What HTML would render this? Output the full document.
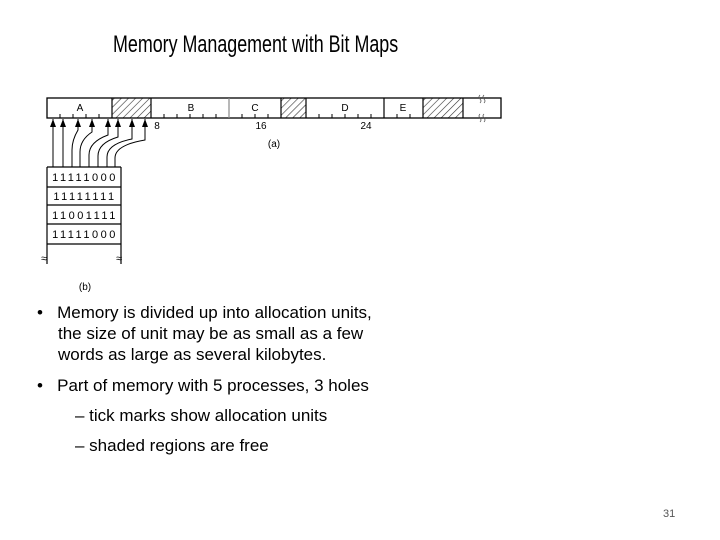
<!DOCTYPE html><html><head><style>
body{margin:0;width:720px;height:540px;background:#fff;position:relative;font-family:"Liberation Sans",sans-serif;overflow:hidden}
.t{position:absolute;white-space:nowrap;color:#000}
.b{font-size:17px}
</style></head><body>
<div class="t" style="left:113px;top:31px;font-size:24px;transform:scaleX(0.745);transform-origin:0 0">Memory Management with Bit Maps</div>
<svg width="720" height="300" style="position:absolute;left:0;top:0" font-family="Liberation Sans, sans-serif">
<defs><pattern id="h" width="5" height="5" patternUnits="userSpaceOnUse" patternTransform="rotate(45)"><line x1="0" y1="0" x2="0" y2="5" stroke="#333" stroke-width="1.2"/></pattern>
<marker id="a" markerWidth="8" markerHeight="6" refX="8" refY="3" orient="auto" markerUnits="userSpaceOnUse"><path d="M0,0 L8,3 L0,6Z" fill="#000"/></marker></defs>
<rect x="112" y="98" width="39" height="20" fill="url(#h)"/>
<rect x="281" y="98" width="25" height="20" fill="url(#h)"/>
<rect x="423" y="98" width="40" height="20" fill="url(#h)"/>
<rect x="47" y="98" width="454" height="20" fill="none" stroke="#000" stroke-width="1.3"/>
<g stroke="#000" stroke-width="1.2">
<line x1="112" y1="98" x2="112" y2="118"/><line x1="151" y1="98" x2="151" y2="118"/><line x1="229" y1="98" x2="229" y2="118" stroke="#888"/><line x1="281" y1="98" x2="281" y2="118"/><line x1="306" y1="98" x2="306" y2="118"/><line x1="384" y1="98" x2="384" y2="118"/><line x1="423" y1="98" x2="423" y2="118"/><line x1="463" y1="98" x2="463" y2="118"/>
</g>
<g stroke="#000" stroke-width="1">
<path d="M60 118v-4M73 118v-4M86 118v-4M99 118v-4M164 118v-4M177 118v-4M190 118v-4M203 118v-4M216 118v-4M242 118v-4M255 118v-4M268 118v-4M319 118v-4M332 118v-4M345 118v-4M358 118v-4M371 118v-4M397 118v-4M410 118v-4"/>
</g>
<g fill="none" stroke="#555" stroke-width="0.8">
<path d="M480 95q-2 2 0 4t0 4M484 95q-2 2 0 4t0 4M480 114q-2 2 0 4t0 4M484 114q-2 2 0 4t0 4"/>
</g>
<g font-size="10" text-anchor="middle"><text x="80" y="111">A</text><text x="191" y="111">B</text><text x="255" y="111">C</text><text x="345" y="111">D</text><text x="403" y="111">E</text>
<text x="157" y="129">8</text><text x="261" y="129">16</text><text x="366" y="129">24</text><text x="274" y="147">(a)</text><text x="85" y="290">(b)</text></g>
<g fill="none" stroke="#000" stroke-width="1" marker-end="url(#a)">
<path d="M53 167V119"/><path d="M63 167V119"/>
<path d="M72 167V150Q72 140 78 130V119"/><path d="M80 167V152Q80 140 92 132V119"/>
<path d="M89 167V155Q89 142 108 135V119"/><path d="M98 167V156Q98 143 118 137V119"/>
<path d="M107 167V157Q107 144 132 139V119"/><path d="M115 167V158Q115 145 145 140V119"/>
</g>
<g stroke="#000" stroke-width="1.2" fill="none">
<path d="M47 167H121M47 187H121M47 205H121M47 224H121M47 244H121M47 167V264M121 167V264"/>
</g>
<g font-size="11" text-anchor="middle" letter-spacing="2.5"><text x="85" y="181">11111000</text><text x="85" y="200">11111111</text><text x="85" y="219">11001111</text><text x="85" y="238">11111000</text></g>
<text x="41" y="262" font-size="11">≈</text><text x="116" y="262" font-size="11">≈</text>
</svg>
<div class="t b" style="left:37px;top:303px">•&nbsp;&nbsp; Memory is divided up into allocation units,</div>
<div class="t b" style="left:58px;top:324px">the size of unit may be as small as a few</div>
<div class="t b" style="left:58px;top:345px">words as large as several kilobytes.</div>
<div class="t b" style="left:37px;top:376px">•&nbsp;&nbsp; Part of memory with 5 processes, 3 holes</div>
<div class="t b" style="left:75px;top:406px">– tick marks show allocation units</div>
<div class="t b" style="left:75px;top:436px">– shaded regions are free</div>
<div class="t" style="left:663px;top:508px;font-size:11px;color:#555">31</div>
</body></html>
